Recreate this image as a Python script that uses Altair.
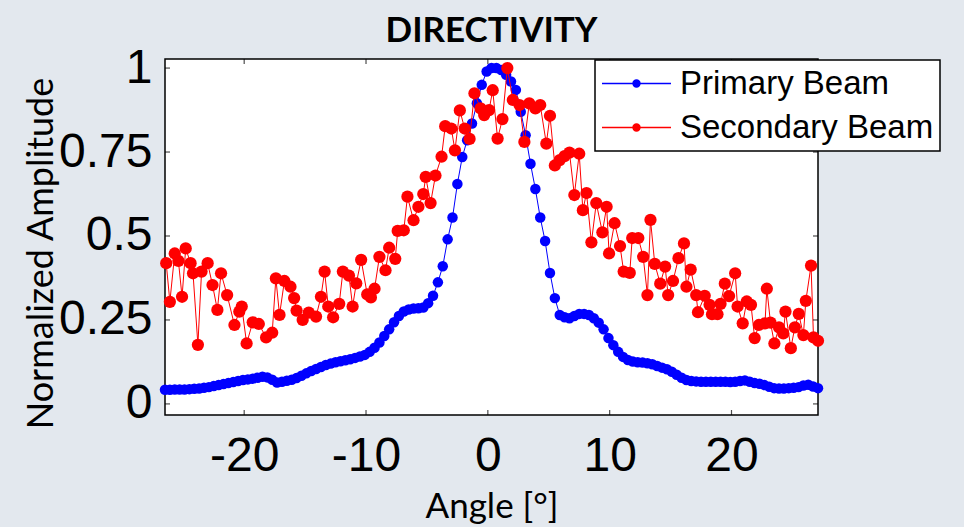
import altair as alt
import pandas as pd

# ---------------- data ----------------
SERIES = ["Primary Beam", "Secondary Beam"]
COLORS = ["#0000ff", "#ff0000"]

ANGLES = [
    -26.5, -26.1, -25.7, -25.3, -24.9, -24.5, -24.1, -23.7, -23.3, -22.9,
    -22.5, -22.1, -21.7, -21.3, -20.9, -20.5, -20.1, -19.7, -19.3, -18.9,
    -18.5, -18.1, -17.7, -17.3, -16.9, -16.5, -16.1, -15.7, -15.3, -14.9,
    -14.5, -14.1, -13.7, -13.3, -12.9, -12.5, -12.1, -11.7, -11.3, -10.9,
    -10.5, -10.1, -9.7, -9.3, -8.9, -8.5, -8.1, -7.7, -7.3, -6.9,
    -6.5, -6.1, -5.7, -5.3, -4.9, -4.5, -4.1, -3.7, -3.3, -2.9,
    -2.5, -2.1, -1.7, -1.3, -0.9, -0.5, -0.1, 0.3, 0.7, 1.1,
    1.5, 1.9, 2.3, 2.7, 3.1, 3.5, 3.9, 4.3, 4.7, 5.1,
    5.5, 5.9, 6.3, 6.7, 7.1, 7.5, 7.9, 8.3, 8.7, 9.1,
    9.5, 9.9, 10.3, 10.7, 11.1, 11.5, 11.9, 12.3, 12.7, 13.1,
    13.5, 13.9, 14.3, 14.7, 15.1, 15.5, 15.9, 16.3, 16.7, 17.1,
    17.5, 17.9, 18.3, 18.7, 19.1, 19.5, 19.9, 20.3, 20.7, 21.1,
    21.5, 21.9, 22.3, 22.7, 23.1, 23.5, 23.9, 24.3, 24.7, 25.1,
    25.5, 25.9, 26.3, 26.7, 27.1,
]

PRIMARY = [
    0.042, 0.042, 0.043, 0.043, 0.043, 0.044, 0.045, 0.046, 0.048, 0.050,
    0.053, 0.056, 0.059, 0.062, 0.065, 0.068, 0.071, 0.073, 0.075, 0.078,
    0.081, 0.079, 0.072, 0.064, 0.066, 0.069, 0.072, 0.077, 0.084, 0.091,
    0.098, 0.104, 0.110, 0.116, 0.120, 0.124, 0.127, 0.130, 0.133, 0.137,
    0.141, 0.146, 0.155, 0.167, 0.183, 0.202, 0.222, 0.243, 0.262, 0.275,
    0.281, 0.284, 0.285, 0.287, 0.300, 0.322, 0.362, 0.410, 0.490, 0.555,
    0.655, 0.735, 0.785, 0.835, 0.895, 0.950, 0.990, 1.000, 1.000, 0.994,
    0.980, 0.960, 0.935, 0.870, 0.800, 0.715, 0.640, 0.555, 0.485, 0.390,
    0.315, 0.265, 0.258, 0.255, 0.262, 0.268, 0.268, 0.265, 0.255, 0.242,
    0.222, 0.196, 0.175, 0.155, 0.140, 0.131, 0.126, 0.124, 0.123, 0.121,
    0.118, 0.113, 0.108, 0.103, 0.096, 0.087, 0.078, 0.071, 0.068, 0.067,
    0.066, 0.066, 0.066, 0.066, 0.066, 0.066, 0.065, 0.066, 0.068, 0.070,
    0.066, 0.062, 0.060, 0.056, 0.051, 0.047, 0.046, 0.046, 0.047, 0.048,
    0.050, 0.055, 0.057, 0.052, 0.047,
]

RED_ANGLES = [
    -26.4, -26.1, -25.7, -25.4, -25.1, -24.8, -24.4, -24.2, -23.8, -23.5,
    -23.0, -22.6, -22.2, -21.9, -21.4, -20.8, -20.4, -20.2, -19.8, -19.3,
    -18.8, -18.2, -17.7, -17.4, -17.1, -16.7, -16.2, -15.9, -15.7, -15.2,
    -14.7, -14.1, -13.7, -13.4, -13.1, -12.7, -12.2, -11.9, -11.4, -11.1,
    -10.8, -10.4, -9.9, -9.6, -9.3, -8.9, -8.4, -8.1, -7.6, -7.4,
    -6.9, -6.6, -6.1, -5.7, -5.3, -5.1, -4.7, -4.3, -3.8, -3.5,
    -3.0, -2.7, -2.3, -1.9, -1.5, -1.1, -0.6, -0.3, 0.1, 0.4,
    0.8, 1.2, 1.6, 2.05, 2.6, 3.0, 3.4, 3.9, 4.3, 4.8,
    5.1, 5.5, 5.9, 6.3, 6.7, 7.1, 7.5, 7.8, 8.1, 8.5,
    8.9, 9.4, 9.75, 9.95, 10.4, 10.85, 11.15, 11.65, 11.85, 12.35,
    12.75, 13.1, 13.35, 13.7, 14.15, 14.55, 14.8, 15.2, 15.65, 16.1,
    16.3, 16.65, 17.1, 17.25, 17.8, 18.2, 18.4, 18.85, 19.1, 19.45,
    19.8, 20.3, 20.5, 20.92, 21.25, 21.6, 21.9, 22.25, 22.75, 22.9,
    23.2, 23.52, 23.9, 24.25, 24.43, 24.87, 25.2, 25.52, 25.9, 26.1,
    26.53, 26.73, 27.1,
]

SECONDARY = [
    0.419, 0.304, 0.448, 0.426, 0.319, 0.463, 0.419, 0.389, 0.176, 0.394,
    0.419, 0.354, 0.280, 0.389, 0.324, 0.235, 0.275, 0.290, 0.180, 0.243,
    0.238, 0.198, 0.212, 0.374, 0.265, 0.366, 0.349, 0.315, 0.278, 0.250,
    0.272, 0.260, 0.319, 0.394, 0.290, 0.258, 0.298, 0.394, 0.382, 0.290,
    0.359, 0.429, 0.326, 0.317, 0.343, 0.438, 0.398, 0.465, 0.432, 0.515,
    0.517, 0.617, 0.547, 0.587, 0.625, 0.676, 0.598, 0.680, 0.736, 0.827,
    0.820, 0.755, 0.874, 0.820, 0.789, 0.925, 0.880, 0.860, 0.875, 0.934,
    0.790, 0.848, 1.000, 0.905, 0.890, 0.780, 0.895, 0.880, 0.890, 0.775,
    0.858, 0.710, 0.726, 0.738, 0.748, 0.622, 0.745, 0.577, 0.628, 0.481,
    0.598, 0.511, 0.587, 0.448, 0.538, 0.470, 0.394, 0.390, 0.494, 0.494,
    0.438, 0.324, 0.548, 0.417, 0.358, 0.409, 0.324, 0.366, 0.434, 0.478,
    0.349, 0.400, 0.324, 0.273, 0.322, 0.295, 0.267, 0.267, 0.298, 0.358,
    0.321, 0.389, 0.290, 0.240, 0.305, 0.295, 0.196, 0.235, 0.240, 0.343,
    0.242, 0.180, 0.228, 0.210, 0.275, 0.166, 0.228, 0.268, 0.205, 0.307,
    0.412, 0.198, 0.188,
]

X_TICKS = [-20, -10, 0, 10, 20]
Y_TICKS = [0, 0.25, 0.5, 0.75, 1]
X_DOMAIN = [-26.5, 27.1]
Y_DOMAIN = [-0.033, 1.027]

# ---------------- tables ----------------
df_p = pd.DataFrame({"angle": ANGLES, "amp": PRIMARY, "series": SERIES[0]})
df_s = pd.DataFrame({"angle": RED_ANGLES, "amp": SECONDARY, "series": SERIES[1]})
df_xt = pd.DataFrame({"angle": X_TICKS})
df_yt = pd.DataFrame({"amp": Y_TICKS})

LABEL_FONT = "Liberation Sans"
TITLE_FONT = "Lato"

x_axis = alt.Axis(
    values=X_TICKS, title="Angle [°]", labelExpr="'' + datum.value",
    grid=False, ticks=False, domain=False,
    labelFont=LABEL_FONT, labelFontSize=48, labelColor="black", labelPadding=17,
    labelOverlap=False, labelFlush=False,
    titleFont=TITLE_FONT, titleFontSize=35, titleFontWeight="normal",
    titleColor="black", titleBaseline="alphabetic", titleY=102,
)
y_axis = alt.Axis(
    values=Y_TICKS, title="Normalized Amplitude", labelExpr="'' + datum.value",
    grid=False, ticks=False, domain=False,
    labelFont=LABEL_FONT, labelFontSize=48, labelColor="black", labelPadding=13,
    labelOverlap=False, labelFlush=False,
    titleFont=TITLE_FONT, titleFontSize=36, titleFontWeight="normal",
    titleColor="black", titleBaseline="alphabetic", titleAngle=270,
    titleAlign="center", titleX=-113, titleY=194,
)
x_scale = alt.Scale(domain=X_DOMAIN, nice=False, zero=False)
y_scale = alt.Scale(domain=Y_DOMAIN, nice=False, zero=False)

x_enc = alt.X("angle:Q", scale=x_scale, axis=x_axis)
y_enc = alt.Y("amp:Q", scale=y_scale, axis=y_axis)


def circle(r):
    return f"M{r},0A{r},{r},0,1,1,-{r},0A{r},{r},0,1,1,{r},0"


# symbol box is 33 px (sqrt of size); line spans 69 px, dot radius ~3.5 px
LEGEND_PATH = "M-2.09,0L2.09,0" + "".join(circle(r) for r in [0.21, 0.16, 0.11, 0.06, 0.02])

color_enc = alt.Color(
    "series:N",
    scale=alt.Scale(domain=SERIES, range=COLORS),
    legend=alt.Legend(
        title=None, orient="none", legendX=430, legendY=1,
        symbolType=LEGEND_PATH, symbolSize=1089, symbolStrokeWidth=1.5,
        symbolOffset=18,
        labelFont=LABEL_FONT, labelFontSize=33, labelColor="black",
        labelOffset=26, labelLimit=0, rowPadding=9, padding=6,
        fillColor="white", strokeColor="black",
    ),
)

line_p = alt.Chart(df_p).mark_line(strokeWidth=1).encode(x=x_enc, y=y_enc, color=color_enc)
pts_p = alt.Chart(df_p).mark_point(filled=True, opacity=1, size=110, shape="circle").encode(
    x=x_enc, y=y_enc, color=color_enc)
line_s = alt.Chart(df_s).mark_line(strokeWidth=1).encode(x=x_enc, y=y_enc, color=color_enc)
pts_s = alt.Chart(df_s).mark_point(filled=True, opacity=1, size=150, shape="circle").encode(
    x=x_enc, y=y_enc, color=color_enc)

tick_bottom = alt.Chart(df_xt).mark_tick(
    orient="vertical", size=5, thickness=1.2, color="black", yOffset=-2.5
).encode(x=x_enc, y=alt.YDatum(Y_DOMAIN[0], scale=y_scale, axis=y_axis))
tick_top = alt.Chart(df_xt).mark_tick(
    orient="vertical", size=5, thickness=1.2, color="black", yOffset=2.5
).encode(x=x_enc, y=alt.YDatum(Y_DOMAIN[1], scale=y_scale, axis=y_axis))
tick_left = alt.Chart(df_yt).mark_tick(
    orient="horizontal", size=5, thickness=1.2, color="black", xOffset=2.5
).encode(y=y_enc, x=alt.XDatum(X_DOMAIN[0], scale=x_scale, axis=x_axis))
tick_right = alt.Chart(df_yt).mark_tick(
    orient="horizontal", size=5, thickness=1.2, color="black", xOffset=-2.5
).encode(y=y_enc, x=alt.XDatum(X_DOMAIN[1], scale=x_scale, axis=x_axis))

chart = alt.layer(
    line_p, pts_p, line_s, pts_s, tick_bottom, tick_top, tick_left, tick_right
).properties(
    width=653,
    height=356,
    title=alt.TitleParams(
        "DIRECTIVITY", font=TITLE_FONT, fontSize=35, fontWeight="bold",
        color="black", anchor="middle", offset=12, frame="group", dy=17,
    ),
    background="#e3e8ee",
    autosize=alt.AutoSizeParams(type="none"),
    padding={"left": 165, "top": 59, "right": 146, "bottom": 112},
).configure_view(
    fill="white", stroke="black", strokeWidth=1.5
).configure_legend(
    strokeWidth=1.5
)

chart.save("out.html", embed_options={"renderer": "svg", "actions": False})
